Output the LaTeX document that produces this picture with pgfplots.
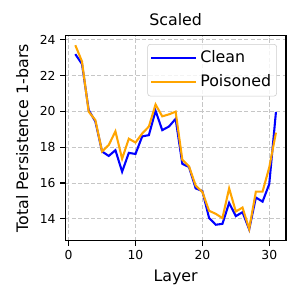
\documentclass[border=0pt]{standalone}
\usepackage{fontspec}
\setmainfont{DejaVu Sans}
\usepackage{pgfplots}
\pgfplotsset{compat=1.18}
\definecolor{mplorange}{RGB}{255,165,0}
\begin{document}
\begin{tikzpicture}
\path[use as bounding box] (-47pt,-42.7pt) rectangle (166.1pt,173.3pt);
\begin{axis}[
  at={(0,0)}, anchor=south west,
  scale only axis, width=158.9pt, height=147.6pt,
  xmin=-0.5, xmax=32.5, ymin=12.78, ymax=24.22,
  xtick={0,10,20,30}, ytick={14,16,18,20,22,24},
  /pgf/number format/assume math mode=true,
  tick align=outside, tick pos=left,
  major tick length=3.5pt,
  every tick/.style={black, line width=0.8pt},
  axis line style={line width=0.8pt},
  ticklabel style={font=\fontsize{8.9}{10.7}\selectfont},
  grid=major,
  grid style={gray!45, line width=0.6pt, dash pattern=on 3pt off 1.6pt},
  title={Scaled},
  title style={font=\fontsize{11.4}{13.7}\selectfont, at={(axis description cs:0.5,1)}, anchor=center, yshift=5.3pt},
  xlabel={Layer},
  xlabel style={font=\fontsize{11.4}{13.7}\selectfont, at={(axis description cs:0.5,0)}, anchor=center, yshift=-26.5pt},
  ylabel={Total Persistence 1-bars},
  every axis y label/.style={at={(axis description cs:0,0.5)}, rotate=90, anchor=center, yshift=31pt, font=\fontsize{11.4}{13.7}\selectfont},
  legend style={at={(axis description cs:1,1)}, anchor=north east, xshift=-6.5pt, yshift=-6pt,
    font=\fontsize{11.4}{13.7}\selectfont, draw=black!20, rounded corners=2pt, fill=white, fill opacity=0.8, text opacity=1,
    inner xsep=2pt, inner ysep=2.5pt, row sep=2.3pt,
    nodes={inner sep=2pt, text height=8.5pt, text depth=2.5pt}},
  legend cell align=left,
  legend image code/.code={\path (-1.6pt,0pt) -- (30.8pt,0pt);\draw[#1] (0pt,0pt) -- (25pt,0pt);},
]
\addplot[blue, line width=1.5pt] coordinates {
(1,23.19) (2,22.64) (3,20.07) (4,19.43) (5,17.76) (6,17.51) (7,17.83) (8,16.63) (9,17.68) (10,17.62)
(11,18.6) (12,18.67) (13,20.03) (14,18.95) (15,19.15) (16,19.58) (17,17.07) (18,16.89) (19,15.7) (20,15.55)
(21,14.05) (22,13.67) (23,13.72) (24,14.89) (25,14.15) (26,14.37) (27,13.41) (28,15.19) (29,14.96) (30,15.94) (31,19.96)
};
\addlegendentry{Clean}
\addplot[mplorange, line width=1.5pt] coordinates {
(1,23.69) (2,22.78) (3,19.98) (4,19.51) (5,17.76) (6,18.12) (7,18.88) (8,17.35) (9,18.47) (10,18.26)
(11,18.76) (12,19.15) (13,20.38) (14,19.72) (15,19.83) (16,19.98) (17,17.3) (18,16.93) (19,15.85) (20,15.5)
(21,14.45) (22,14.28) (23,14.04) (24,15.7) (25,14.41) (26,14.63) (27,13.44) (28,15.52) (29,15.52) (30,16.87) (31,18.81)
};
\addlegendentry{Poisoned}
\end{axis}
\end{tikzpicture}
\end{document}
